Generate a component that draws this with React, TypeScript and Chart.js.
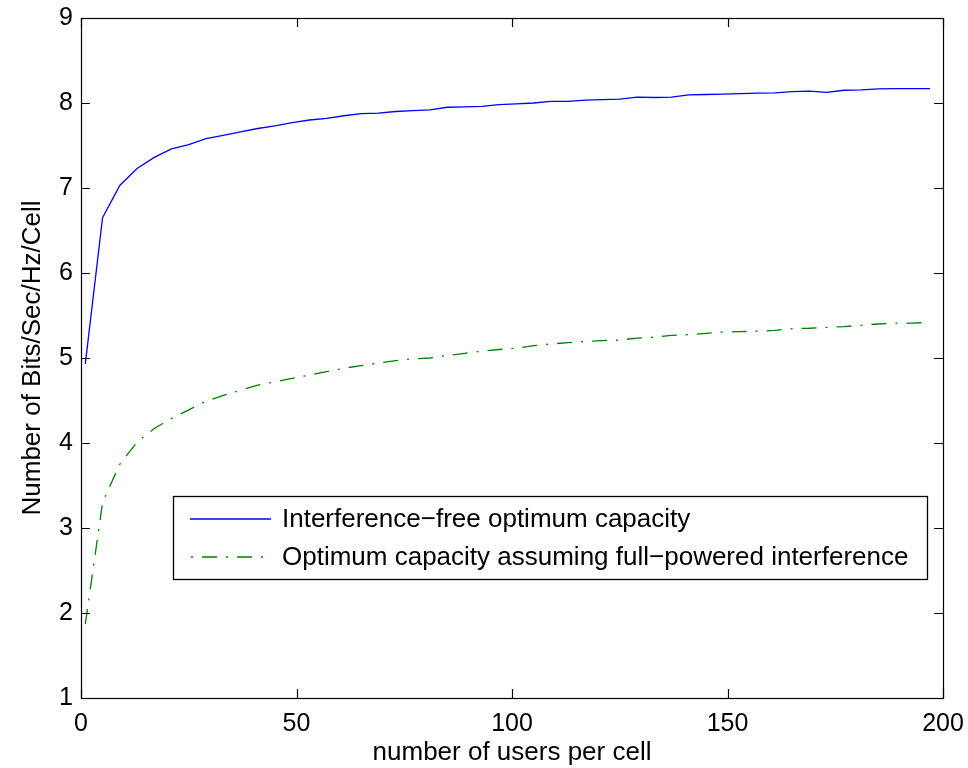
import React, { useEffect, useRef } from "react";
import { Chart, registerables } from "chart.js";

Chart.register(...registerables);

const usersPerCell = [
  1, 5, 9, 13, 17, 21, 25, 29, 33, 37, 41, 45, 49, 53, 57, 61, 65, 69, 73, 77,
  81, 85, 89, 93, 97, 101, 105, 109, 113, 117, 121, 125, 129, 133, 137, 141, 145, 149, 153, 157,
  161, 165, 169, 173, 177, 181, 185, 189, 193, 197,
];

const interferenceFree = [
  4.93, 6.65, 7.03, 7.23, 7.36, 7.46, 7.51, 7.58, 7.62, 7.66, 7.70, 7.73, 7.77, 7.80, 7.82, 7.85, 7.875, 7.88, 7.90, 7.91,
  7.92, 7.95, 7.955, 7.96, 7.98, 7.99, 8.0, 8.02, 8.02, 8.035, 8.04, 8.045, 8.07, 8.065, 8.07, 8.095, 8.10, 8.105, 8.11, 8.115,
  8.12, 8.135, 8.14, 8.125, 8.15, 8.155, 8.165, 8.17, 8.17, 8.17,
];

const fullPowered = [
  1.87, 3.3, 3.75, 4.01, 4.17, 4.29, 4.39, 4.49, 4.56, 4.62, 4.68, 4.72, 4.76, 4.8, 4.84, 4.88, 4.91, 4.94, 4.97, 4.99,
  5.0, 5.03, 5.055, 5.08, 5.1, 5.115, 5.145, 5.165, 5.18, 5.195, 5.205, 5.21, 5.235, 5.245, 5.265, 5.275, 5.29, 5.305, 5.31, 5.315,
  5.325, 5.345, 5.35, 5.36, 5.37, 5.385, 5.4, 5.41, 5.41, 5.42,
];

const seriesLabels = [
  "Interference\u2212free optimum capacity",
  "Optimum capacity assuming full\u2212powered interference",
];

const xTicks = [0, 50, 100, 150, 200];
const yTicks = [1, 2, 3, 4, 5, 6, 7, 8, 9];
const xTitle = "number of users per cell";
const yTitle = "Number of Bits/Sec/Hz/Cell";

const FONT = "'Liberation Sans', Arial, Helvetica, sans-serif";
const BLUE = "#0000ff";
const GREEN = "#008000";
const DASHDOT = [15, 9, 2, 9];

const boxAndTicks = {
  id: "boxAndTicks",
  afterDatasetsDraw(chart: any) {
    const { ctx, chartArea: a, scales } = chart;
    const t = 9;
    ctx.save();
    ctx.strokeStyle = "#000";
    ctx.lineWidth = 1.2;
    ctx.setLineDash([]);
    ctx.strokeRect(a.left + 0.5, a.top + 0.5, a.right - a.left, a.bottom - a.top);
    ctx.beginPath();
    for (const v of xTicks) {
      const x = Math.round(scales.x.getPixelForValue(v)) + 0.5;
      ctx.moveTo(x, a.bottom);
      ctx.lineTo(x, a.bottom - t);
      ctx.moveTo(x, a.top);
      ctx.lineTo(x, a.top + t);
    }
    for (const v of yTicks) {
      const y = Math.round(scales.y.getPixelForValue(v)) + 0.5;
      ctx.moveTo(a.left, y);
      ctx.lineTo(a.left + t, y);
      ctx.moveTo(a.right, y);
      ctx.lineTo(a.right - t, y);
    }
    ctx.stroke();

    // legend
    const lx = 173, ly = 496, lw = 754, lh = 83;
    ctx.fillStyle = "#fff";
    ctx.fillRect(lx, ly, lw, lh);
    ctx.lineWidth = 1.3;
    ctx.strokeRect(lx + 0.5, ly + 0.5, lw, lh);
    const rows = [519, 557];
    const colors = [BLUE, GREEN];
    const dashes = [[], DASHDOT];
    ctx.font = `26px ${FONT}`;
    ctx.textBaseline = "middle";
    ctx.textAlign = "left";
    rows.forEach((ry, i) => {
      ctx.beginPath();
      ctx.strokeStyle = colors[i];
      ctx.lineWidth = 1.3;
      ctx.setLineDash(dashes[i]);
      ctx.lineDashOffset = i === 1 ? -12 : 0;
      ctx.moveTo(190, ry);
      ctx.lineTo(271, ry);
      ctx.stroke();
      ctx.setLineDash([]);
      ctx.fillStyle = "#000";
      ctx.fillText(seriesLabels[i], 282, ry + 1);
    });
    ctx.restore();
  },
};

export default function App() {
  const ref = useRef<HTMLCanvasElement | null>(null);
  useEffect(() => {
    if (!ref.current) return;
    const chart = new Chart(ref.current, {
      type: "line",
      data: {
        datasets: [
          {
            label: seriesLabels[0],
            data: usersPerCell.map((x, i) => ({ x, y: interferenceFree[i] })),
            borderColor: BLUE,
            borderWidth: 1.3,
            pointRadius: 0,
            tension: 0,
            fill: false,
          },
          {
            label: seriesLabels[1],
            data: usersPerCell.map((x, i) => ({ x, y: fullPowered[i] })),
            borderColor: GREEN,
            borderWidth: 1.3,
            borderDash: DASHDOT,
            pointRadius: 0,
            tension: 0,
            fill: false,
          },
        ],
      },
      options: {
        responsive: false,
        animation: false,
        layout: { padding: { top: 18, right: 25, left: 0, bottom: 0 } },
        plugins: { legend: { display: false }, tooltip: { enabled: false } },
        scales: {
          x: {
            type: "linear",
            min: 0,
            max: 200,
            grid: { display: false, drawTicks: false },
            border: { display: false },
            ticks: {
              stepSize: 50,
              color: "#000",
              padding: 11,
              maxRotation: 0,
              font: { family: FONT, size: 25 },
            },
            title: {
              display: true,
              text: xTitle,
              color: "#000",
              padding: { top: 0, bottom: 0 },
              font: { family: FONT, size: 26 },
            },
            afterFit: (s: any) => {
              s.height = 70;
              s.paddingLeft = 0;
              s.paddingRight = 0;
            },
          },
          y: {
            type: "linear",
            min: 1,
            max: 9,
            grid: { display: false, drawTicks: false },
            border: { display: false },
            ticks: {
              stepSize: 1,
              color: "#000",
              padding: 8,
              font: { family: FONT, size: 25 },
            },
            title: {
              display: true,
              text: yTitle,
              color: "#000",
              padding: { top: 17, bottom: 0 },
              font: { family: FONT, size: 26 },
            },
            afterFit: (s: any) => {
              s.width = 81;
              s.paddingTop = 0;
              s.paddingBottom = 0;
            },
          },
        },
      },
      plugins: [boxAndTicks],
    } as any);
    return () => chart.destroy();
  }, []);
  return (
    <div style={{ position: "absolute", left: 0, top: 0, width: 968, height: 768, background: "#fff" }}>
      <canvas ref={ref} width={968} height={768} style={{ display: "block" }} />
    </div>
  );
}
